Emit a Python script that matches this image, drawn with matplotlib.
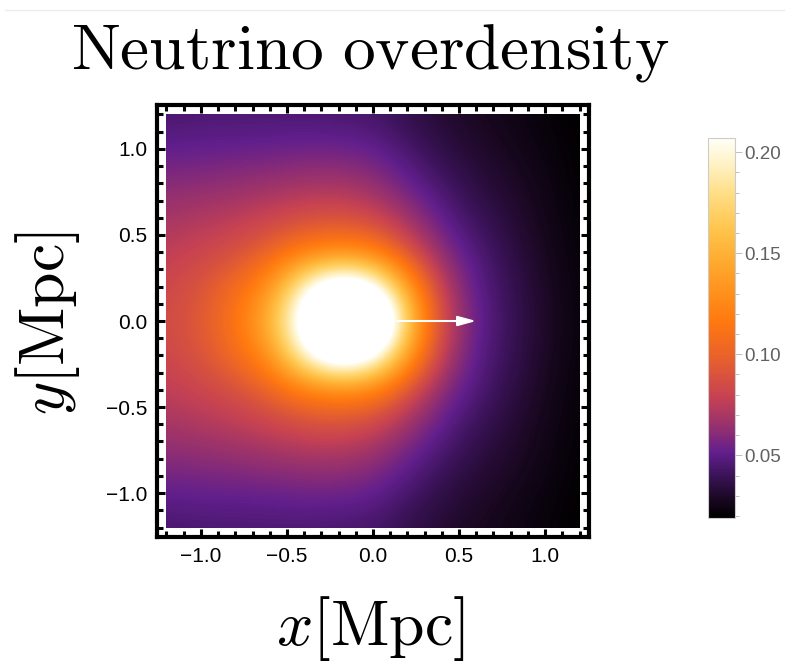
import numpy as np
import matplotlib
matplotlib.use("Agg")
import matplotlib.pyplot as plt
from matplotlib.colors import LinearSegmentedColormap
from matplotlib.patches import Rectangle
from matplotlib.ticker import MultipleLocator, FormatStrFormatter, FuncFormatter

plt.rcParams["mathtext.fontset"] = "cm"
plt.rcParams["font.family"] = ["Liberation Sans", "DejaVu Sans"]

# sampled overdensity, read off the picture
# columns: x = -1.2 ... 1.2 (step 0.2), rows: y = 1.2 ... -1.2
x_vals = [-1.2, -1.0, -0.8, -0.6, -0.4, -0.2, 0.0, 0.2, 0.4, 0.6, 0.8, 1.0, 1.2]
y_vals = [1.2, 1.0, 0.8, 0.6, 0.4, 0.2, 0.0, -0.2, -0.4, -0.6, -0.8, -1.0, -1.2]

row_y12 = [0.044, 0.045, 0.045, 0.045, 0.045, 0.044, 0.043, 0.037, 0.032, 0.028, 0.025, 0.022, 0.019]
row_y10 = [0.051, 0.052, 0.052, 0.053, 0.054, 0.054, 0.052, 0.044, 0.036, 0.031, 0.027, 0.023, 0.020]
row_y08 = [0.060, 0.061, 0.063, 0.065, 0.067, 0.068, 0.063, 0.053, 0.043, 0.035, 0.030, 0.025, 0.020]
row_y06 = [0.069, 0.072, 0.075, 0.080, 0.086, 0.088, 0.082, 0.066, 0.051, 0.040, 0.033, 0.026, 0.021]
row_y04 = [0.076, 0.081, 0.087, 0.100, 0.117, 0.124, 0.120, 0.090, 0.060, 0.047, 0.036, 0.028, 0.021]
row_y02 = [0.082, 0.090, 0.106, 0.130, 0.200, 0.250, 0.222, 0.140, 0.075, 0.050, 0.039, 0.029, 0.022]
row_y00 = [0.084, 0.093, 0.113, 0.150, 0.232, 0.320, 0.305, 0.170, 0.082, 0.052, 0.040, 0.030, 0.022]

density = np.array([row_y12, row_y10, row_y08, row_y06, row_y04, row_y02, row_y00,
                    row_y02, row_y04, row_y06, row_y08, row_y10, row_y12])

# colour scale
vmin, vmax = 0.019, 0.207
cb_ticks = [0.05, 0.10, 0.15, 0.20]
cmap_vals = [0.019, 0.028, 0.039, 0.051, 0.062, 0.079, 0.100, 0.116, 0.128,
             0.145, 0.162, 0.178, 0.195, 0.207]
cmap_cols = [(0.0, 0.0, 0.0), (0.10, 0.03, 0.13), (0.22, 0.07, 0.33),
             (0.38, 0.12, 0.55), (0.56, 0.18, 0.45), (0.78, 0.26, 0.32),
             (0.92, 0.39, 0.16), (1.0, 0.47, 0.06), (1.0, 0.55, 0.10),
             (1.0, 0.66, 0.18), (1.0, 0.77, 0.30), (1.0, 0.86, 0.50),
             (1.0, 0.95, 0.78), (1.0, 1.0, 0.97)]
sunset = LinearSegmentedColormap.from_list(
    "sunset", [((v - vmin) / (vmax - vmin), c) for v, c in zip(cmap_vals, cmap_cols)])
sunset.set_over("white")
sunset.set_under("black")

fig = plt.figure(figsize=(7.85, 6.68), dpi=100)
fig.patch.set_facecolor("white")

ax = fig.add_axes([0.2, 0.1961, 0.5503, 0.6467])
step = x_vals[1] - x_vals[0]
im = ax.imshow(density, cmap=sunset, vmin=vmin, vmax=vmax,
               extent=[x_vals[0] - step / 2, x_vals[-1] + step / 2,
                       y_vals[-1] - step / 2, y_vals[0] + step / 2],
               interpolation="bicubic", interpolation_stage="data",
               aspect="auto", origin="upper")
clip = Rectangle((x_vals[0], y_vals[-1]), x_vals[-1] - x_vals[0], y_vals[0] - y_vals[-1],
                 transform=ax.transData, facecolor="none", edgecolor="none")
ax.add_patch(clip)
im.set_clip_path(clip)

# velocity arrow
ax.annotate("", xy=(0.6, 0.0), xytext=(0.14, 0.0),
            arrowprops=dict(arrowstyle="-|>,head_length=1.1,head_width=0.3",
                            color="white", lw=1.5, shrinkA=0, shrinkB=0))

ax.set_xlim(-1.255, 1.255)
ax.set_ylim(-1.255, 1.255)
minus_fmt = FuncFormatter(lambda v, p: f"{v:.1f}".replace("-", "\u2212"))
ax.xaxis.set_major_locator(MultipleLocator(0.5))
ax.yaxis.set_major_locator(MultipleLocator(0.5))
ax.xaxis.set_minor_locator(MultipleLocator(0.1))
ax.yaxis.set_minor_locator(MultipleLocator(0.1))
ax.xaxis.set_major_formatter(minus_fmt)
ax.yaxis.set_major_formatter(minus_fmt)
for sp in ax.spines.values():
    sp.set_linewidth(3)
ax.tick_params(which="both", direction="in", top=True, right=True,
               width=2.2, color="black", labelsize=15, pad=7)
ax.tick_params(which="major", length=6)
ax.tick_params(which="minor", length=4)

# colour bar
cax = fig.add_axes([708 / 785, 150 / 668, 27 / 785, 380 / 668])
cb = fig.colorbar(im, cax=cax, ticks=cb_ticks)
cb.outline.set_edgecolor("0.8")
cb.outline.set_linewidth(0.8)
cb.ax.yaxis.set_major_formatter(FormatStrFormatter("%.2f"))
cb.ax.yaxis.set_minor_locator(MultipleLocator(0.01))
cb.ax.tick_params(which="both", color="0.75", width=0.7, labelcolor="0.38",
                  labelsize=13.5, pad=2)
cb.ax.tick_params(which="major", length=5)
cb.ax.tick_params(which="minor", length=3)

# texts
fig.text(0.472, 0.898, r"$\mathrm{Neutrino\ overdensity}$", fontsize=47,
         ha="center", va="baseline")
fig.text(0.472, 0.034, r"$x[\mathrm{Mpc}]$", fontsize=46, ha="center", va="baseline")
fig.text(0.06, 0.516, r"$y[\mathrm{Mpc}]$", fontsize=46, ha="center", va="center",
         rotation=90)

fig.add_artist(plt.Line2D([0.006, 1.0], [0.985, 0.985], transform=fig.transFigure,
                          color="#ebebeb", lw=1))

fig.savefig("out.png", dpi=100)
